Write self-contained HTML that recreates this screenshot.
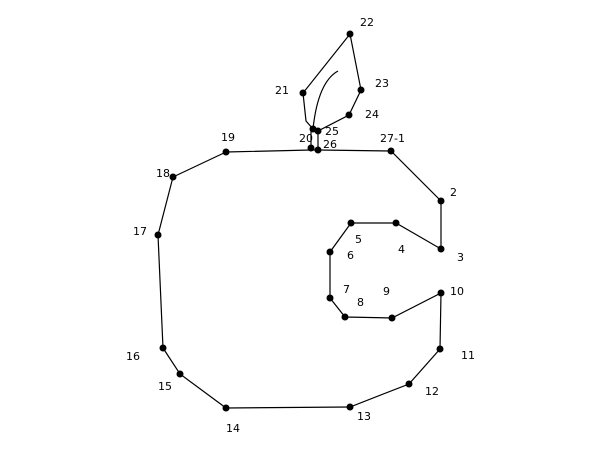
<!DOCTYPE html>
<html><head><meta charset="utf-8"><style>
html,body{margin:0;padding:0;background:#fff;width:600px;height:450px;overflow:hidden}
text{font-family:"DejaVu Sans","Liberation Sans",sans-serif;font-size:11px;fill:#000}
</style></head><body>
<svg width="600" height="450" xmlns="http://www.w3.org/2000/svg">
<g fill="none" stroke="#000" stroke-width="1.2">
<polyline points="226,152 311,150 318,150 391,151 441,201 441,249 396,223 351,223 330,252 330,298 345,317 392,318 441,293 440,349 409,384 350,407 226,408 180,374 163,348 158,235 173,177 226,152"/>
<polyline points="311,148 311,129 313,129 306,121 303,93 350,34 361,90 349,115 318,131 318,150"/>
<path d="M338,71 Q318,82 313,129"/>
</g>
<g fill="#000">
<circle cx="350" cy="34" r="3.5"/><circle cx="361" cy="90" r="3.5"/><circle cx="349" cy="115" r="3.5"/>
<circle cx="303" cy="93" r="3.5"/><circle cx="313" cy="129" r="3.5"/><circle cx="318" cy="131" r="3.5"/>
<circle cx="311" cy="148" r="3.5"/><circle cx="318" cy="150" r="3.5"/><circle cx="391" cy="151" r="3.5"/>
<circle cx="441" cy="201" r="3.5"/><circle cx="441" cy="249" r="3.5"/><circle cx="396" cy="223" r="3.5"/>
<circle cx="351" cy="223" r="3.5"/><circle cx="330" cy="252" r="3.5"/><circle cx="330" cy="298" r="3.5"/>
<circle cx="345" cy="317" r="3.5"/><circle cx="392" cy="318" r="3.5"/><circle cx="441" cy="293" r="3.5"/>
<circle cx="440" cy="349" r="3.5"/><circle cx="409" cy="384" r="3.5"/><circle cx="350" cy="407" r="3.5"/>
<circle cx="226" cy="408" r="3.5"/><circle cx="180" cy="374" r="3.5"/><circle cx="163" cy="348" r="3.5"/>
<circle cx="158" cy="235" r="3.5"/><circle cx="173" cy="177" r="3.5"/><circle cx="226" cy="152" r="3.5"/>
</g>
<text x="360" y="26">22</text>
<text x="375" y="87">23</text>
<text x="365" y="118">24</text>
<text x="275" y="94">21</text>
<text x="325" y="135">25</text>
<text x="299" y="142">20</text>
<text x="323" y="148">26</text>
<text x="380" y="142">27-1</text>
<text x="450" y="196">2</text>
<text x="457" y="261">3</text>
<text x="398" y="253">4</text>
<text x="355" y="243">5</text>
<text x="347" y="259">6</text>
<text x="343" y="293">7</text>
<text x="357" y="306">8</text>
<text x="383" y="295">9</text>
<text x="450" y="295">10</text>
<text x="461" y="359">11</text>
<text x="425" y="395">12</text>
<text x="357" y="420">13</text>
<text x="226" y="432">14</text>
<text x="158" y="390">15</text>
<text x="126" y="360">16</text>
<text x="133" y="235">17</text>
<text x="156" y="177">18</text>
<text x="221" y="141">19</text>
</svg>
</body></html>
